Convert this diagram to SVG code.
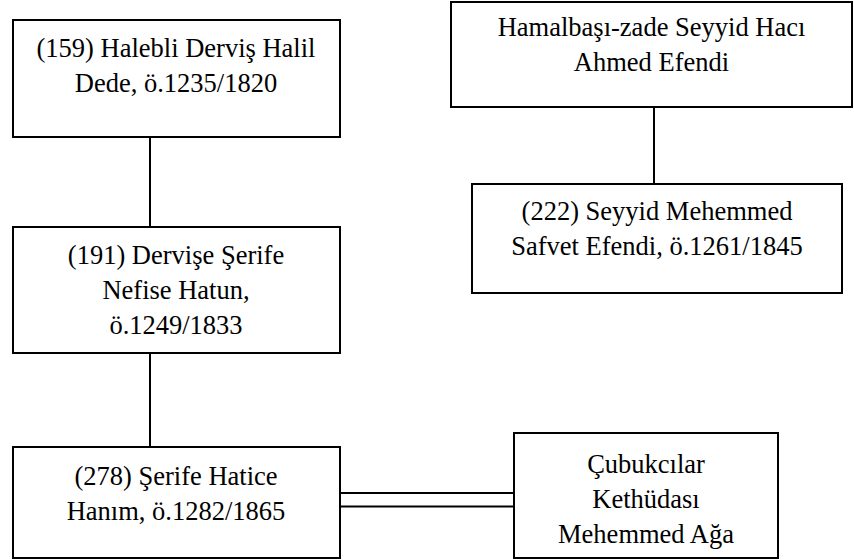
<svg xmlns="http://www.w3.org/2000/svg" width="854" height="560" viewBox="0 0 854 560">
<style>
.box{fill:#fff;stroke:#000;stroke-width:2}
.ln{stroke:#000;stroke-width:2;fill:none}
text{font-family:"Liberation Serif","Times New Roman",serif;font-size:26.5px;fill:#000;text-anchor:middle}
</style>
<rect width="854" height="560" fill="#fff"/>
<g id="connectors">
<line class="ln" x1="150" y1="137" x2="150" y2="227"/>
<line class="ln" x1="150" y1="353" x2="150" y2="447"/>
<line class="ln" x1="654" y1="107" x2="654" y2="184"/>
<line class="ln" x1="340" y1="493" x2="514" y2="493"/>
<line class="ln" x1="340" y1="506.5" x2="514" y2="506.5"/>
</g>
<g id="n159">
<rect class="box" x="13" y="20" width="327" height="117"/>
<text x="176" y="57">(159) Halebli Derviş Halil</text>
<text x="176" y="92">Dede, ö.1235/1820</text>
</g>
<g id="n191">
<rect class="box" x="13" y="227" width="327" height="126"/>
<text x="176" y="264">(191) Dervişe Şerife</text>
<text x="176" y="299">Nefise Hatun,</text>
<text x="176" y="334">ö.1249/1833</text>
</g>
<g id="n278">
<rect class="box" x="13" y="447" width="327" height="111"/>
<text x="176" y="485">(278) Şerife Hatice</text>
<text x="176" y="520">Hanım, ö.1282/1865</text>
</g>
<g id="ncubukcilar">
<rect class="box" x="514" y="433" width="264" height="125"/>
<text x="646" y="473">Çubukcılar</text>
<text x="646" y="508">Kethüdası</text>
<text x="646" y="543">Mehemmed Ağa</text>
</g>
<g id="nhamalbasi">
<rect class="box" x="451" y="2" width="401" height="105"/>
<text x="651.5" y="36">Hamalbaşı-zade Seyyid Hacı</text>
<text x="651.5" y="71">Ahmed Efendi</text>
</g>
<g id="n222">
<rect class="box" x="472" y="184" width="370" height="109"/>
<text x="657" y="220">(222) Seyyid Mehemmed</text>
<text x="657" y="255">Safvet Efendi, ö.1261/1845</text>
</g>
</svg>
